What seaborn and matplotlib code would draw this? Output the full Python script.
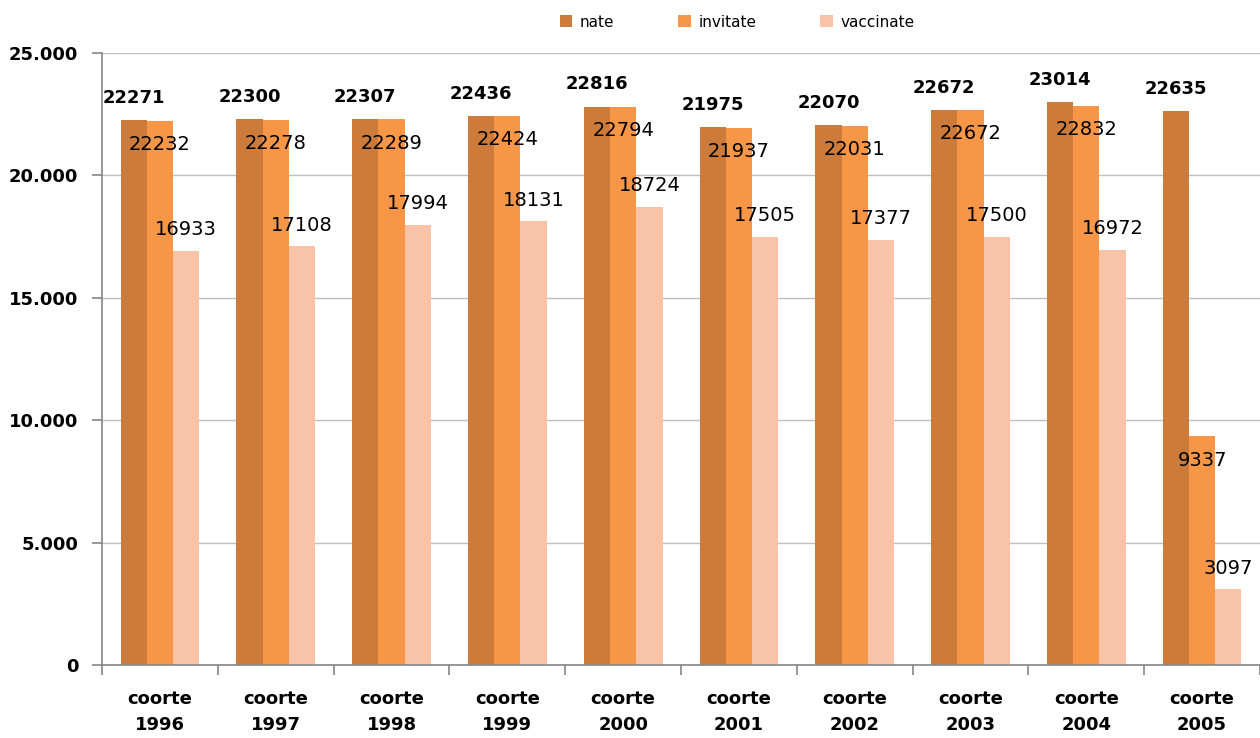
import matplotlib
matplotlib.use("Agg")
import matplotlib.pyplot as plt
import matplotlib.ticker as mticker
import seaborn as sns
import pandas as pd

# data
cohorts = ["1996", "1997", "1998", "1999", "2000", "2001", "2002", "2003", "2004", "2005"]
nate = [22271, 22300, 22307, 22436, 22816, 21975, 22070, 22672, 23014, 22635]
invitate = [22232, 22278, 22289, 22424, 22794, 21937, 22031, 22672, 22832, 9337]
vaccinate = [16933, 17108, 17994, 18131, 18724, 17505, 17377, 17500, 16972, 3097]
series = ["nate", "invitate", "vaccinate"]
colors = ["#CD7B3A", "#F79646", "#F9C3A8"]

cat_labels = ["coorte\n" + c for c in cohorts]
df = pd.DataFrame({
    "coorte": cat_labels * 3,
    "serie": [s for s in series for _ in cohorts],
    "valore": nate + invitate + vaccinate,
})

sns.set_style("white")
plt.rcParams["font.family"] = ["DejaVu Sans"]
plt.rcParams["text.color"] = "black"
plt.rcParams["xtick.color"] = "black"
plt.rcParams["ytick.color"] = "black"

fig = plt.figure(figsize=(12.6, 7.38), dpi=100)
ax = fig.add_axes([0.081, 0.099, 0.919, 0.829])

sns.barplot(data=df, x="coorte", y="valore", hue="serie", hue_order=series,
            palette=colors, width=0.68, saturation=1, ax=ax, legend=True,
            edgecolor="none", linewidth=0)

ax.set_ylim(0, 25000)
ax.set_xlim(-0.5, 9.5)
ax.yaxis.set_major_locator(mticker.MultipleLocator(5000))
ax.yaxis.set_major_formatter(
    mticker.FuncFormatter(lambda v, p: f"{int(v):,}".replace(",", ".")))
ax.set_xlabel("")
ax.set_ylabel("")

# grid and spines
ax.grid(axis="y", color="#BFBFBF", linewidth=1)
ax.set_axisbelow(True)
for s in ["top", "right"]:
    ax.spines[s].set_visible(False)
for s in ["left", "bottom"]:
    ax.spines[s].set_color("#868686")
    ax.spines[s].set_linewidth(1.2)

ax.tick_params(axis="y", left=True, length=7, color="#868686", width=1.2,
               labelsize=13, pad=10, labelcolor="black")
ax.tick_params(axis="x", which="major", length=0, labelsize=13, pad=18,
               labelcolor="black")
ax.set_xticks([i - 0.5 for i in range(11)], minor=True)
ax.tick_params(axis="x", which="minor", bottom=True, length=7,
               color="#868686", width=1.2)
for t in ax.get_yticklabels():
    t.set_fontweight("bold")
for t in ax.get_xticklabels():
    t.set_fontweight("bold")
    t.set_linespacing(1.6)

# data labels
offsets = [16, -17, 15]
for cont, off, vals, name in zip(ax.containers, offsets,
                                 [nate, invitate, vaccinate], series):
    for bar, v in zip(cont, vals):
        ax.annotate(str(v), (bar.get_x() + bar.get_width() / 2, bar.get_height()),
                    xytext=(0, off), textcoords="offset points",
                    ha="center", va="center", color="black",
                    fontsize=13 if name == "nate" else 14,
                    fontweight="bold" if name == "nate" else "normal",
                    annotation_clip=False)

# legend
handles, labels = ax.get_legend_handles_labels()
ax.legend_.remove()
fig.legend(handles, labels, loc="center", bbox_to_anchor=(0.585, 0.97),
           ncol=3, frameon=False, fontsize=11, handlelength=0.8,
           handleheight=0.8, handletextpad=0.5, columnspacing=4.2)

fig.savefig("out.png", dpi=100)
